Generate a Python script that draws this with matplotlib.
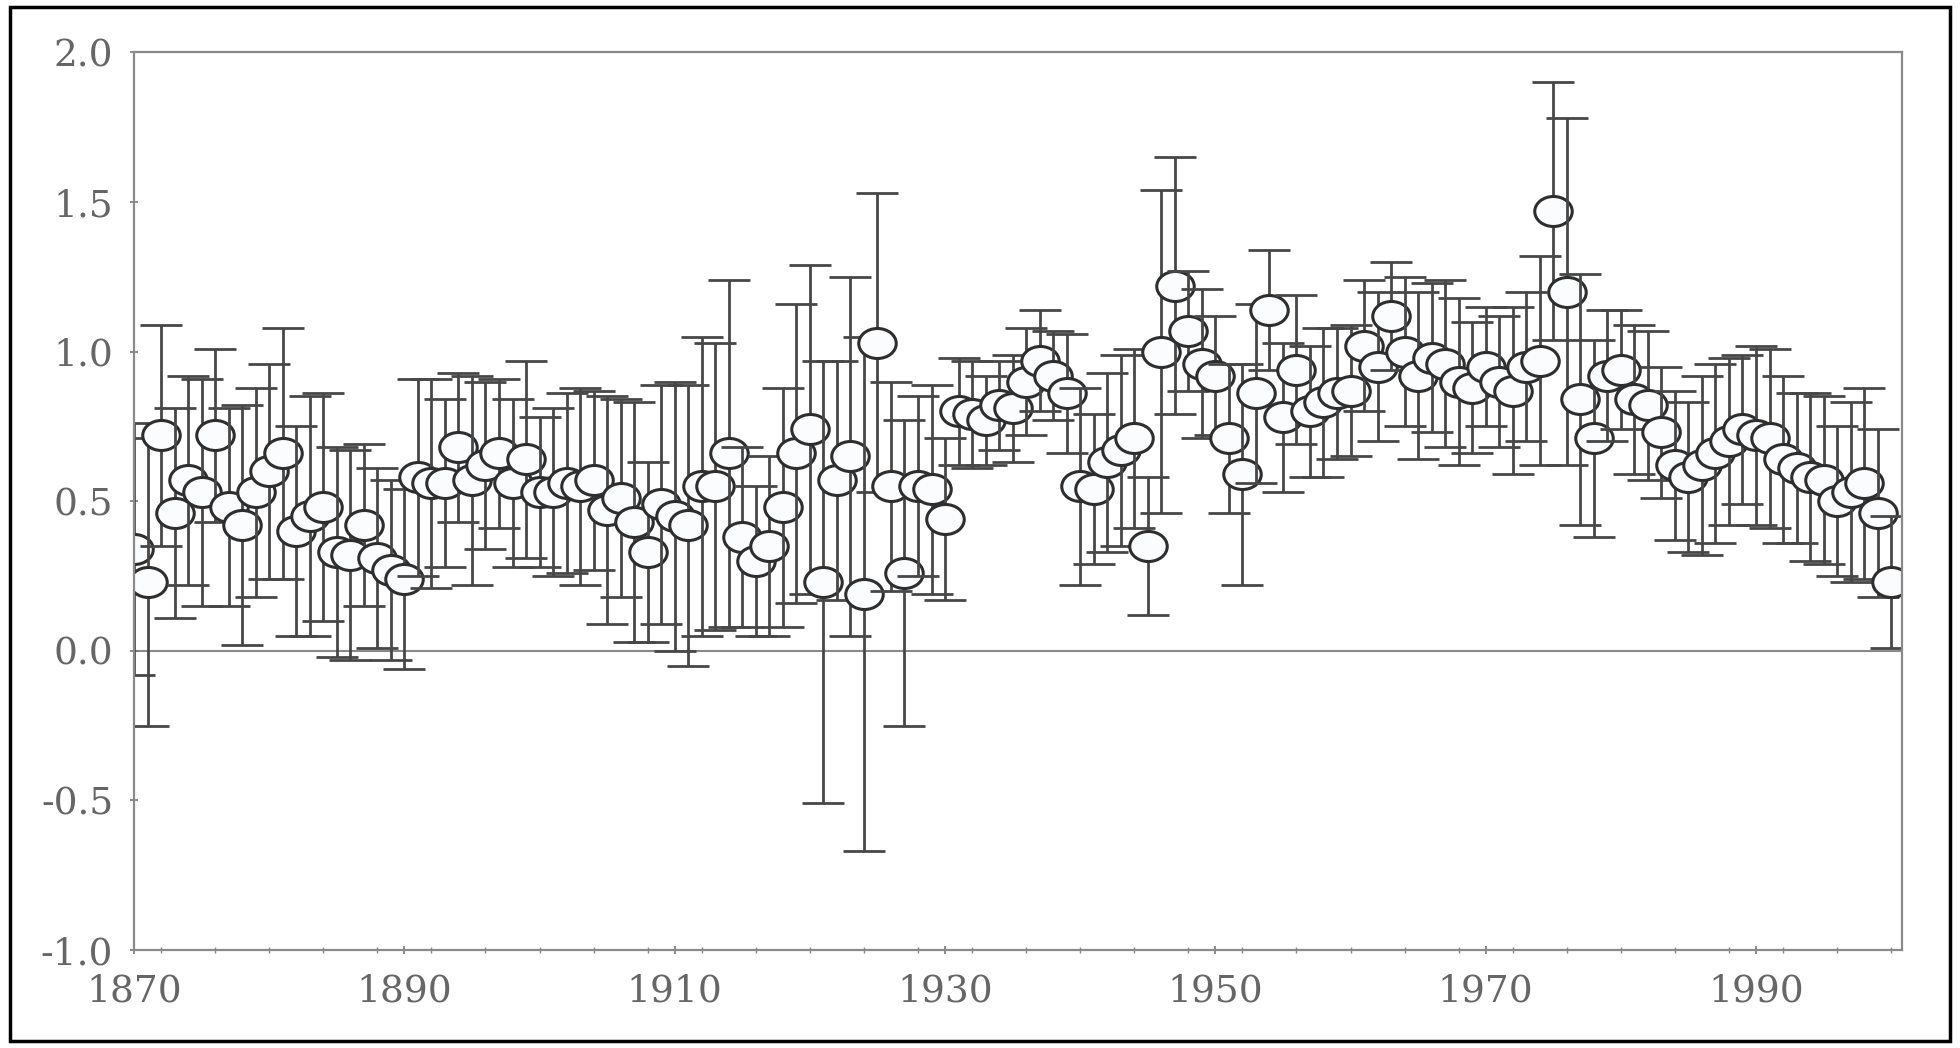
import numpy as np
import matplotlib
matplotlib.use("Agg")
import matplotlib.pyplot as plt
from matplotlib.path import Path
from matplotlib.transforms import Affine2D
from matplotlib.ticker import MultipleLocator
from matplotlib.patches import Rectangle

# yearly values, 1870-2000
years = list(range(1870, 2001))

values = [
    0.34, 0.23, 0.72, 0.46, 0.57, 0.53, 0.72, 0.48, 0.42, 0.53,   # 1870s
    0.60, 0.66, 0.40, 0.45, 0.48, 0.33, 0.32, 0.42, 0.31, 0.27,   # 1880s
    0.24, 0.58, 0.56, 0.56, 0.68, 0.57, 0.62, 0.66, 0.56, 0.64,   # 1890s
    0.53, 0.53, 0.56, 0.55, 0.57, 0.47, 0.51, 0.43, 0.33, 0.49,   # 1900s
    0.45, 0.42, 0.55, 0.55, 0.66, 0.38, 0.30, 0.35, 0.48, 0.66,   # 1910s
    0.74, 0.23, 0.57, 0.65, 0.19, 1.03, 0.55, 0.26, 0.55, 0.54,   # 1920s
    0.44, 0.80, 0.79, 0.77, 0.82, 0.81, 0.90, 0.97, 0.92, 0.86,   # 1930s
    0.55, 0.54, 0.63, 0.67, 0.71, 0.35, 1.00, 1.22, 1.07, 0.96,   # 1940s
    0.92, 0.71, 0.59, 0.86, 1.14, 0.78, 0.94, 0.80, 0.83, 0.86,   # 1950s
    0.87, 1.02, 0.95, 1.12, 1.00, 0.92, 0.98, 0.96, 0.90, 0.88,   # 1960s
    0.95, 0.90, 0.87, 0.95, 0.97, 1.47, 1.20, 0.84, 0.71, 0.92,   # 1970s
    0.94, 0.84, 0.82, 0.73, 0.62, 0.58, 0.62, 0.66, 0.70, 0.74,   # 1980s
    0.72, 0.71, 0.64, 0.61, 0.58, 0.57, 0.50, 0.53, 0.56, 0.46,   # 1990s
    0.23,                                                         # 2000
]

errors = [
    0.42, 0.48, 0.37, 0.35, 0.35, 0.38, 0.29, 0.33, 0.40, 0.35,
    0.36, 0.42, 0.35, 0.40, 0.38, 0.35, 0.35, 0.27, 0.30, 0.30,
    0.30, 0.33, 0.35, 0.28, 0.25, 0.35, 0.28, 0.25, 0.28, 0.33,
    0.25, 0.28, 0.30, 0.33, 0.30, 0.38, 0.33, 0.40, 0.30, 0.40,
    0.45, 0.47, 0.50, 0.48, 0.58, 0.30, 0.25, 0.30, 0.40, 0.50,
    0.55, 0.74, 0.40, 0.60, 0.86, 0.50, 0.35, 0.51, 0.30, 0.35,
    0.27, 0.18, 0.18, 0.15, 0.15, 0.18, 0.18, 0.17, 0.15, 0.20,
    0.33, 0.25, 0.30, 0.32, 0.30, 0.23, 0.54, 0.43, 0.20, 0.25,
    0.20, 0.25, 0.37, 0.30, 0.20, 0.25, 0.25, 0.22, 0.25, 0.22,
    0.22, 0.22, 0.25, 0.18, 0.25, 0.28, 0.25, 0.28, 0.28, 0.22,
    0.20, 0.22, 0.28, 0.25, 0.35, 0.43, 0.58, 0.42, 0.33, 0.22,
    0.20, 0.25, 0.25, 0.22, 0.25, 0.25, 0.30, 0.30, 0.28, 0.25,
    0.30, 0.30, 0.28, 0.25, 0.28, 0.28, 0.25, 0.30, 0.32, 0.28,
    0.22,
]

y_ticks = [-1.0, -0.5, 0.0, 0.5, 1.0, 1.5, 2.0]
x_ticks = [1870, 1890, 1910, 1930, 1950, 1970, 1990]

plt.rcParams['font.family'] = ['DejaVu Serif', 'Liberation Serif']

fig = plt.figure(figsize=(19.6, 10.48), dpi=100)
ax = fig.add_axes([0.0684, 0.0935, 0.902, 0.8565])

# slightly flattened circle, like the scanned markers
oval = Path.unit_circle().transformed(Affine2D().scale(1.0, 0.8))

line_col = '#474747'
for yr, v, e in zip(years, values, errors):
    ax.errorbar(yr, v, yerr=e, fmt='none', ecolor=line_col,
                elinewidth=2.0, capsize=15, capthick=2.0)
    ax.plot(yr, v, marker=oval, ms=27, mfc='#fbfcfd', mec='#2e2e2e',
            mew=2.2, linestyle='none')

ax.axhline(0, color='#8a8a8a', lw=1.5, zorder=0)

ax.set_xlim(1870, 2000.8)
ax.set_ylim(-1.0, 2.0)
ax.set_yticks(y_ticks)
ax.set_yticklabels([f'{t:.1f}' for t in y_ticks])
ax.set_xticks(x_ticks)
ax.xaxis.set_minor_locator(MultipleLocator(4))

for s in ax.spines.values():
    s.set_color('#8a8a8a')
    s.set_linewidth(1.6)

ax.tick_params(axis='both', which='major', direction='inout', length=6,
               width=1.2, color='#777777', labelsize=27, labelcolor='#666666')
ax.tick_params(axis='x', which='major', pad=14)
ax.tick_params(axis='y', which='major', pad=12)
ax.tick_params(axis='x', which='minor', direction='inout', length=4,
               width=1.0, color='#888888')

# black frame around the whole picture
fig.patches.append(Rectangle((0.005, 0.007), 0.99, 0.986, transform=fig.transFigure,
                             fill=False, edgecolor='black', linewidth=2.5))

fig.savefig('out.png', dpi=100, facecolor='white')
